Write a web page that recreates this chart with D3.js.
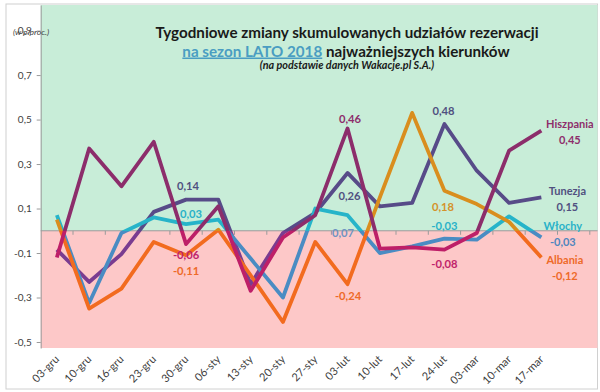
<!DOCTYPE html>
<html><head><meta charset="utf-8">
<script src="https://cdn.jsdelivr.net/npm/d3@7"></script>
<style>body{margin:0;background:#fff;} svg{display:block;font-family:Lato,"Open Sans",sans-serif;}</style>
</head><body><svg id="c" width="600" height="392"></svg>
<script>
const categories = ["03-gru","10-gru","16-gru","23-gru","30-gru","06-sty","13-sty","20-sty","27-sty","03-lut","10-lut","17-lut","24-lut","03-mar","10-mar","17-mar"];
const hiszpania = [-0.12, 0.37, 0.20, 0.40, -0.06, 0.11, -0.27, -0.03, 0.07, 0.46, -0.08, -0.075, -0.085, -0.01, 0.36, 0.45];
const tunezja   = [-0.085, -0.23, -0.105, 0.085, 0.14, 0.14, -0.24, -0.01, 0.08, 0.26, 0.11, 0.125, 0.48, 0.27, 0.125, 0.15];
const wlochy    = [0.07, -0.325, -0.01, 0.06, 0.03, 0.05, -0.125, -0.30, 0.10, 0.07, -0.10, -0.07, -0.035, -0.04, 0.065, -0.03];
const albania   = [0.05, -0.35, -0.26, -0.05, -0.11, 0.005, -0.20, -0.41, -0.05, -0.24, 0.15, 0.53, 0.18, 0.12, 0.04, -0.12];
const seriesNames = ["Hiszpania","Tunezja","Włochy","Albania"];
const yTicks = [-0.5,-0.3,-0.1,0.1,0.3,0.5,0.7,0.9];
const titleLine1 = "Tygodniowe zmiany skumulowanych udziałów rezerwacji";
const titleLink = "na sezon LATO 2018";
const titleRest = " najważniejszych kierunków";
const subtitle = "(na podstawie danych Wakacje.pl S.A.)";
const unitLabel = "(w p.proc.)";
// point labels: [series index, category index, text]
const pointLabels = [
  [1,4,"0,14"],[2,4,"0,03"],[0,4,"-0,06"],[3,4,"-0,11"],
  [0,9,"0,46"],[1,9,"0,26"],[2,9,"0,07"],[3,9,"-0,24"],
  [1,12,"0,48"],[3,12,"0,18"],[2,12,"-0,03"],[0,12,"-0,08"]
];
const endValueLabels = ["0,45","0,15","-0,03","-0,12"];

// ---- styling / layout ----
const allSeries = [hiszpania, tunezja, wlochy, albania];
const colAbove = ["#8C2D6B","#574B88","#26B4C9","#D98E1E"];
const colBelow = ["#BE1F68","#7A3C90","#4A8CC3","#F26B1F"];
const labOffsets = {
  "1-4":[2,-10,"#505080"],"2-4":[5,-6,"#2AB2C8"],"0-4":[0,15,"#C0246B"],"3-4":[0,19.5,"#EE6A28"],
  "0-9":[2.5,-5,"#8E2D6B"],"1-9":[2,27,"#505080"],"2-9":[-4.5,21.5,"#6E93C2"],"3-9":[0.5,15.6,"#EE6A28"],
  "1-12":[-1,-9,"#505080"],"3-12":[-1.5,20,"#D4922A"],"2-12":[0,-9,"#2AB2C8"],"0-12":[0,18,"#C0246B"]
};
const endOffsets = [ // [dx, name dy, value dy, name color, value color]
  [28.5,-3,13,"#8E2D6B","#8E2D6B"],
  [26,-2.6,13.4,"#505080","#505080"],
  [21.5,-7.5,8.5,"#2AB2C8","#4F86BE"],
  [23.5,6.5,22.5,"#EE6A28","#EE6A28"]
];

const svg = d3.select("#c");
const pLeft = 40.7, pRight = 597.5, pTop = 5, pBottom = 348;
const x = d3.scaleBand().domain(categories.concat(["_p1","_p2"])).range([pLeft, pLeft + 18*32.3]).padding(0);
const y = d3.scaleLinear().domain([-0.527, 1.015]).range([pBottom, pTop]);
const cx = i => x(categories[i]) + x.bandwidth()/2;

// frame
svg.append("rect").attr("x",6).attr("y",4).attr("width",591.5).attr("height",385)
  .attr("fill","#fff").attr("stroke","#D0D0D0").attr("stroke-width",1);
// backgrounds
svg.append("rect").attr("x",pLeft).attr("y",pTop).attr("width",pRight-pLeft).attr("height",y(0)-pTop).attr("fill","#C8EDD8");
svg.append("rect").attr("x",pLeft).attr("y",y(0)).attr("width",pRight-pLeft).attr("height",pBottom-y(0)).attr("fill","#FDC8C8");

// title
svg.append("text").attr("x",347).attr("y",37.5).attr("text-anchor","middle")
  .attr("font-size",15.2).attr("font-weight","bold").attr("fill","#1A1A1A").text(titleLine1);
const t2 = svg.append("text").attr("x",346).attr("y",56.5).attr("text-anchor","middle")
  .attr("font-size",15.2).attr("font-weight","bold").attr("fill","#1A1A1A");
t2.append("tspan").attr("fill","#4A9DC2").attr("text-decoration","underline").text(titleLink);
t2.append("tspan").text(titleRest);
svg.append("text").attr("x",347).attr("y",68.5).attr("text-anchor","middle")
  .attr("font-size",10.8).attr("font-style","italic").attr("font-weight","bold").attr("fill","#1A1A1A").text(subtitle);

// y axis
const ya = svg.append("g").attr("transform",`translate(${pLeft},0)`)
  .call(d3.axisLeft(y).tickValues(yTicks).tickSize(4).tickSizeOuter(0)
    .tickFormat(d => d.toFixed(1).replace(".",",")));
ya.select(".domain").attr("stroke","#9A9A9A");
ya.selectAll(".tick line").attr("stroke","#9A9A9A");
ya.selectAll(".tick text").attr("font-family","Lato").attr("font-size",10).attr("fill","#404040").attr("x",-9);
svg.append("text").attr("x",13).attr("y",34.5).attr("font-size",8.5).attr("font-style","italic")
  .attr("fill","#404040").text(unitLabel);

// zero line + tick marks at band boundaries
const bounds = d3.range(1, 18).map(i => pLeft + i*x.step()).filter(v => v < pRight);
svg.append("line").attr("x1",pLeft).attr("x2",pRight).attr("y1",y(0)).attr("y2",y(0)).attr("stroke","#9A9A9A");
svg.selectAll(".xt").data(bounds).join("line").attr("class","xt")
  .attr("x1",d=>d).attr("x2",d=>d).attr("y1",y(0)).attr("y2",y(0)+4).attr("stroke","#9A9A9A");

// x labels
const xa = svg.append("g").attr("transform",`translate(0,${pBottom})`)
  .call(d3.axisBottom(x).tickSize(0).tickFormat(d => d.startsWith("_") ? "" : d));
xa.select(".domain").remove();
xa.selectAll(".tick text").attr("font-family","Lato").attr("font-size",11).attr("fill","#404040")
  .attr("text-anchor","end").attr("y",0).attr("dy",0)
  .attr("transform","translate(3,12) rotate(-45)");

// gradients
const defs = svg.append("defs");
const z = y(0);
allSeries.forEach((s,k) => {
  const g = defs.append("linearGradient").attr("id","g"+k).attr("gradientUnits","userSpaceOnUse")
    .attr("x1",0).attr("x2",0).attr("y1",0).attr("y2",392);
  g.append("stop").attr("offset",z/392).attr("stop-color",colAbove[k]);
  g.append("stop").attr("offset",z/392).attr("stop-color",colBelow[k]);
});

// lines
const line = d3.line().x((d,i)=>cx(i)).y(d=>y(d));
const order = [1,2,3,0];
order.forEach(k => {
  svg.append("path").attr("d", line(allSeries[k])).attr("fill","none")
    .attr("stroke","url(#g"+k+")").attr("stroke-width",3.8).attr("stroke-linejoin","round");
});

// point labels
pointLabels.forEach(([k,i,t]) => {
  const o = labOffsets[k+"-"+i];
  svg.append("text").attr("x",cx(i)+o[0]).attr("y",y(allSeries[k][i])+o[1]).attr("text-anchor","middle")
    .attr("font-size",11.2).attr("font-weight","bold").attr("fill",o[2]).text(t);
});
// end labels
allSeries.forEach((s,k) => {
  const o = endOffsets[k], last = s.length-1;
  const px = cx(last)+o[0], py = y(s[last]);
  svg.append("text").attr("x",px).attr("y",py+o[1]).attr("text-anchor","middle")
    .attr("font-size",11).attr("font-weight","bold").attr("fill",o[3]).text(seriesNames[k]);
  svg.append("text").attr("x",px).attr("y",py+o[2]).attr("text-anchor","middle")
    .attr("font-size",11).attr("font-weight","bold").attr("fill",o[4]).text(endValueLabels[k]);
});
</script></body></html>
